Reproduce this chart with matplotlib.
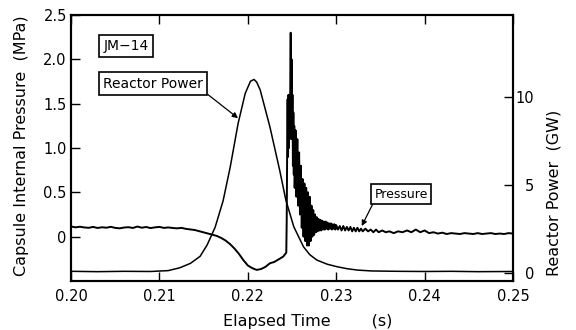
import matplotlib
matplotlib.use("Agg")
import matplotlib.pyplot as plt

# ---- data ----
# Reactor power (GW) vs elapsed time (s)
t_power = [0.2000, 0.2030, 0.2060, 0.2090, 0.2110, 0.2123, 0.2135, 0.2146,
           0.2154, 0.2163, 0.2172, 0.2180, 0.2189, 0.2197, 0.2203, 0.2207,
           0.2210, 0.2214, 0.2225, 0.2236, 0.2243, 0.2252, 0.2263, 0.2270,
           0.2278, 0.2290, 0.2301, 0.2312, 0.2324, 0.2340, 0.2370, 0.2400,
           0.2430, 0.2460, 0.2500]
power = [0.10, 0.08, 0.10, 0.09, 0.14, 0.30, 0.55, 0.95,
         1.60, 2.60, 4.10, 6.00, 8.50, 10.2, 10.9, 11.0,
         10.85, 10.4, 8.30, 5.85, 4.15, 2.63, 1.49, 1.05,
         0.74, 0.50, 0.36, 0.25, 0.17, 0.12, 0.10, 0.09,
         0.10, 0.08, 0.09]

# Capsule internal pressure (MPa) vs elapsed time (s)
t_press = [
    0.2000, 0.2005, 0.2010, 0.2015, 0.2020, 0.2025, 0.2030, 0.2035, 0.2040, 0.2045,
    0.2050, 0.2055, 0.2060, 0.2065, 0.2070, 0.2075, 0.2080, 0.2085, 0.2090, 0.2095,
    0.2100, 0.2105, 0.2110, 0.2115, 0.2120, 0.2125, 0.2130, 0.2135, 0.2140, 0.2145,
    0.2150, 0.2155, 0.2160, 0.2165, 0.2170, 0.2175, 0.2180, 0.2185, 0.2190, 0.2195,
    0.2200, 0.2205, 0.2210, 0.2215, 0.2220, 0.2225, 0.2230, 0.2235, 0.2240, 0.22435,
    0.22440, 0.22445, 0.22450, 0.22455, 0.22460, 0.22465, 0.22470, 0.22475, 0.22480, 0.22485,
    0.22490, 0.22495, 0.22500, 0.22505, 0.22510, 0.22515, 0.22520, 0.22525, 0.22530, 0.22540,
    0.22550, 0.22560, 0.22570, 0.22580, 0.22590, 0.22600, 0.22610, 0.22620, 0.22630, 0.22640,
    0.22650, 0.22660, 0.22670, 0.22680, 0.22690, 0.22700, 0.22710, 0.22720, 0.22730, 0.22740,
    0.22750, 0.22760, 0.22770, 0.22780, 0.22790, 0.22800, 0.22810, 0.22820, 0.22830, 0.22840,
    0.22850, 0.22860, 0.22870, 0.22880, 0.22890, 0.22900, 0.22910, 0.22920, 0.22930, 0.22940,
    0.22950, 0.22960, 0.22970, 0.22980, 0.22990, 0.23000, 0.2302, 0.2304, 0.2306, 0.2308,
    0.2310, 0.2312, 0.2314, 0.2316, 0.2318, 0.2320, 0.2322, 0.2324, 0.2326, 0.2328,
    0.2330, 0.2333, 0.2336, 0.2339, 0.2342, 0.2345, 0.2348, 0.2352, 0.2356, 0.2360,
    0.2365, 0.2370, 0.2375, 0.2380, 0.2385, 0.2390, 0.2395, 0.2400, 0.2405, 0.2410,
    0.2415, 0.2420, 0.2425, 0.2430, 0.2435, 0.2440, 0.2445, 0.2450, 0.2455, 0.2460,
    0.2465, 0.2470, 0.2475, 0.2480, 0.2485, 0.2490, 0.2495, 0.2500]
pressure = [
    0.115, 0.105, 0.112, 0.104, 0.100, 0.110, 0.098, 0.106, 0.101, 0.111,
    0.099, 0.094, 0.103, 0.107, 0.098, 0.114, 0.101, 0.109, 0.097, 0.105,
    0.110, 0.099, 0.104, 0.098, 0.094, 0.099, 0.088, 0.082, 0.075, 0.062,
    0.048, 0.036, 0.022, 0.008, -0.015, -0.045, -0.085, -0.135, -0.195, -0.265,
    -0.325, -0.355, -0.375, -0.365, -0.340, -0.300, -0.285, -0.255, -0.225, -0.180,
    0.20, 1.00, 1.55, 0.90, 1.60, 1.00, 1.45, 1.10, 1.70, 2.30,
    1.40, 2.00, 1.10, 1.60, 0.80, 1.40, 0.70, 1.25, 0.55, 1.20,
    0.45, 1.10, 0.35, 0.95, 0.25, 0.80, 0.10, 0.65, 0.00, 0.60,
    -0.05, 0.55, -0.10, 0.50, -0.10, 0.45, -0.05, 0.35, 0.00, 0.30,
    0.02, 0.25, 0.05, 0.22, 0.06, 0.20, 0.07, 0.19, 0.07, 0.18,
    0.08, 0.17, 0.08, 0.17, 0.09, 0.16, 0.08, 0.15, 0.09, 0.15,
    0.08, 0.14, 0.09, 0.14, 0.08, 0.13, 0.08, 0.12, 0.07, 0.12,
    0.07, 0.11, 0.07, 0.11, 0.06, 0.10, 0.06, 0.10, 0.06, 0.09,
    0.06, 0.09, 0.06, 0.08, 0.05, 0.08, 0.05, 0.07, 0.05, 0.06,
    0.04, 0.06, 0.05, 0.07, 0.05, 0.08, 0.05, 0.07, 0.04, 0.05,
    0.035, 0.045, 0.03, 0.04, 0.035, 0.03, 0.04, 0.035, 0.03, 0.04,
    0.03, 0.035, 0.04, 0.03, 0.035, 0.03, 0.04, 0.035]

x_ticks = [0.20, 0.21, 0.22, 0.23, 0.24, 0.25]
x_labels = ["0.20", "0.21", "0.22", "0.23", "0.24", "0.25"]
p_ticks = [0, 0.5, 1.0, 1.5, 2.0, 2.5]
p_labels = ["0", "0.5", "1.0", "1.5", "2.0", "2.5"]
w_ticks = [0, 5, 10]
w_labels = ["0", "5", "10"]

# ---- figure ----
plt.rcParams["font.family"] = "DejaVu Sans"
plt.rcParams["font.size"] = 10.5

fig = plt.figure(figsize=(5.76, 3.30), dpi=100)
ax = fig.add_axes([0.1233, 0.1485, 0.7674, 0.8060])
ax2 = ax.twinx()

ax.plot(t_press, pressure, color="black", linewidth=1.4)
ax2.plot(t_power, power, color="black", linewidth=1.1)

ax.set_xlim(0.20, 0.25)
ax.set_ylim(-0.5, 2.5)
ax2.set_ylim(-0.45, 14.66)

ax.set_xticks(x_ticks)
ax.set_xticklabels(x_labels)
ax.set_yticks(p_ticks)
ax.set_yticklabels(p_labels)
ax2.set_yticks(w_ticks)
ax2.set_yticklabels(w_labels, ha="right")

ax.tick_params(axis="x", direction="in", length=6.5, width=1.0,
               top=True, pad=6)
ax.tick_params(axis="y", direction="in", length=6.5, width=1.0, pad=3)
ax2.tick_params(axis="y", direction="in", length=6.5, width=1.0, pad=15)

for a in (ax, ax2):
    for s in a.spines.values():
        s.set_linewidth(1.5)

ax.set_xlabel("Elapsed Time        (s)", fontsize=11.5)
ax.xaxis.set_label_coords(0.535, -0.125)
ax.set_ylabel("Capsule Internal Pressure  (MPa)", fontsize=11.5)
ax.yaxis.set_label_coords(-0.095, 0.51)
ax2.set_ylabel("Reactor Power  (GW)", fontsize=11.5)
ax2.yaxis.set_label_coords(1.075, 0.33)

box = dict(boxstyle="square,pad=0.3", facecolor="white",
           edgecolor="black", linewidth=1.2)
ax.text(0.124, 0.883, "JM\u221214", transform=ax.transAxes, fontsize=10,
        ha="center", va="center", bbox=box)
ax2.annotate("Reactor Power", xy=(0.21889, 8.8), xytext=(0.1855, 0.742),
             textcoords="axes fraction", ha="center", va="center",
             fontsize=10, bbox=box,
             arrowprops=dict(arrowstyle="-|>", color="black", lw=0.9,
                             shrinkA=0, shrinkB=0, relpos=(1.0, 0.0),
                             mutation_scale=8))
box2 = dict(boxstyle="square,pad=0.25", facecolor="white",
            edgecolor="black", linewidth=1.2)
ax.annotate("Pressure", xy=(0.23288, 0.12), xytext=(0.747, 0.327),
            textcoords="axes fraction", ha="center", va="center",
            fontsize=9, bbox=box2,
            arrowprops=dict(arrowstyle="-|>", color="black", lw=0.9,
                            shrinkA=0, shrinkB=0, relpos=(0.0, 0.0),
                            mutation_scale=8))

fig.savefig("out.png", dpi=100)
